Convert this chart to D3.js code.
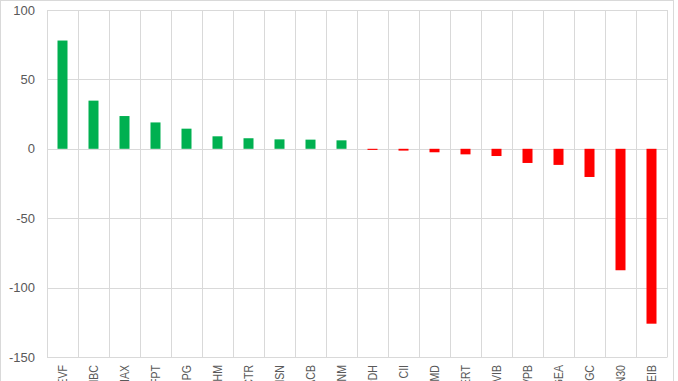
<!DOCTYPE html>
<html>
<head>
<meta charset="utf-8">
<script src="https://cdn.jsdelivr.net/npm/d3@7"></script>
<style>
  body { margin: 0; background: #fff; }
  svg { display: block; font-family: "Liberation Sans", Arial, sans-serif; }
</style>
</head>
<body>
<div id="chart"></div>
<script>
const WIDTH = 678;
const HEIGHT = 381;

// tickers (the start of each label is cut off at the bottom of the picture)
const tickers = ["EVF", "MBC", "HAX", "FPT", "HPG", "VHM", "CTR", "MSN", "ACB", "VNM",
    "PDH", "CII", "GMD", "VERT", "VIB", "VPB", "GEA", "DGC", "VN30", "EIB"];

const values = [78, 34.7, 23.6, 19, 14.5, 9, 7.6, 6.8, 6.6, 6.1,
    -0.8, -1.3, -2.5, -4, -5.2, -10.2, -11.6, -20.3, -87.5, -126];

const yTicks = [100, 50, 0, -50, -100, -150];

const margin = { left: 47, right: 11, top: 10, bottom: 24 };

const svg = d3.select("#chart")
    .append("svg")
    .attr("width", WIDTH)
    .attr("height", HEIGHT);

// chart area border
svg.append("rect")
    .attr("x", 0.5)
    .attr("y", 0.5)
    .attr("width", 673)
    .attr("height", HEIGHT + 10)
    .attr("fill", "none")
    .attr("stroke", "#d9d9d9");

const x = d3.scaleBand()
    .domain(tickers)
    .range([margin.left, WIDTH - margin.right]);

const y = d3.scaleLinear()
    .domain([-150, 100])
    .range([HEIGHT - margin.bottom, margin.top]);

/* GRIDLINES */

const grid = svg.append("g")
    .attr("stroke", "#d9d9d9")
    .attr("stroke-width", 1);

grid.selectAll("line.h")
    .data(yTicks)
    .enter()
    .append("line")
    .attr("x1", margin.left)
    .attr("x2", WIDTH - margin.right)
    .attr("y1", d => Math.round(y(d)) + 0.5)
    .attr("y2", d => Math.round(y(d)) + 0.5);

// vertical lines between categories
const bounds = tickers.map(t => x(t)).concat([x.range()[1]]);
grid.selectAll("line.v")
    .data(bounds)
    .enter()
    .append("line")
    .attr("x1", d => Math.round(d) + 0.5)
    .attr("x2", d => Math.round(d) + 0.5)
    .attr("y1", margin.top)
    .attr("y2", Math.round(y(-150)) + 0.5);

/* BARS */

const barWidth = 10;

svg.append("g")
    .selectAll("rect")
    .data(tickers.map((t, i) => ({ name: t, value: values[i] })))
    .enter()
    .append("rect")
    .attr("x", d => x(d.name) + x.bandwidth() / 2 - barWidth / 2)
    .attr("width", barWidth)
    .attr("y", d => y(Math.max(0, d.value)))
    .attr("height", d => Math.abs(y(d.value) - y(0)))
    .attr("fill", d => d.value >= 0 ? "#00b050" : "#ff0000");

/* AXES TEXT */

svg.append("g")
    .selectAll("text")
    .data(yTicks)
    .enter()
    .append("text")
    .attr("x", 35)
    .attr("y", d => y(d))
    .attr("dy", "0.35em")
    .attr("text-anchor", "end")
    .attr("fill", "#595959")
    .style("font-size", "13px")
    .text(d => d);

// category labels, narrowed a bit along the text direction
svg.append("g")
    .selectAll("text")
    .data(tickers)
    .enter()
    .append("text")
    .attr("transform", d => `translate(${x(d) + x.bandwidth() / 2}, 365) rotate(-90) scale(0.88, 1)`)
    .attr("dy", "0.35em")
    .attr("text-anchor", "end")
    .attr("fill", "#595959")
    .style("font-size", "12px")
    .text(d => d);
</script>
</body>
</html>
